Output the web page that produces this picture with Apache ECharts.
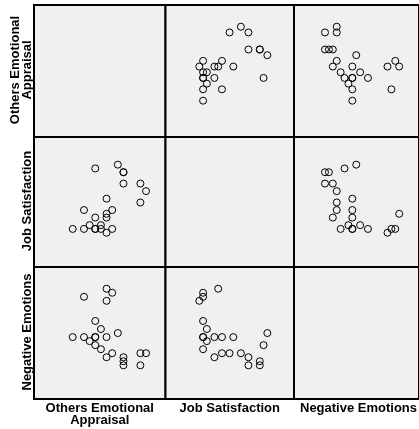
<!DOCTYPE html>
<html>
<head>
<meta charset="utf-8">
<script src="https://cdn.jsdelivr.net/npm/echarts@6/dist/echarts.min.js"></script>
<style>html,body{margin:0;padding:0;background:#fff}#c{width:419px;height:429px}</style>
</head>
<body>
<div id="c"></div>
<script>
// Variable names (row / column labels)
const varNames = ["Others Emotional\nAppraisal", "Job Satisfaction", "Negative Emotions"];
// One value per respondent for each variable (scale scores)
const othersAppraisal = [0, 2, 2, 3, 4, 4, 4, 4, 5, 5, 6, 6, 6, 6, 7, 7, 8, 9, 9, 9, 12, 12, 13];
const jobSatisfaction = [1, 1, 6, 2, 17, 4, 1, 1, 2, 1, 0, 5, 4, 9, 1, 6, 18, 16, 16, 13, 8, 13, 11];
const negativeEmotions = [7, 17, 7, 6, 5, 7, 11, 7, 9, 4, 16, 19, 2, 7, 18, 3, 8, 1, 0, 2, 3, 0, 3];

const vars = [othersAppraisal, jobSatisfaction, negativeEmotions];
// axis extents (as used by the scatterplot matrix panels)
const xRange = [[-6.86, 16.45], [-8.94, 25.05], [-7.94, 24.07]];
const yRange = [[-6.38, 16.82], [-9.07, 25.32], [-8.36, 24.39]];

const colEdges = [34, 165.5, 294, 423];
const rowEdges = [5, 137, 267, 399];

const grids = [], xAxes = [], yAxes = [], series = [];
let k = 0;
for (let r = 0; r < 3; r++) {
  for (let c = 0; c < 3; c++) {
    grids.push({
      left: colEdges[c], top: rowEdges[r],
      width: colEdges[c + 1] - colEdges[c], height: rowEdges[r + 1] - rowEdges[r],
      show: true, backgroundColor: '#f0f0f0', borderColor: '#000', borderWidth: 2
    });
    xAxes.push({ type: 'value', gridIndex: k, min: xRange[c][0], max: xRange[c][1], show: false, splitLine: { show: false } });
    yAxes.push({ type: 'value', gridIndex: k, min: yRange[r][0], max: yRange[r][1], show: false, splitLine: { show: false } });
    if (r !== c) {
      const xs = vars[c], ys = vars[r];
      series.push({
        type: 'scatter', xAxisIndex: k, yAxisIndex: k,
        data: xs.map((v, i) => [v, ys[i]]),
        symbol: 'circle', symbolSize: 7,
        itemStyle: { color: 'rgba(0,0,0,0)', borderColor: '#000', borderWidth: 1, opacity: 1 },
        emphasis: { disabled: true },
        silent: true
      });
    }
    k++;
  }
}

const labelFont = 'bold 13px "Liberation Sans", Arial, sans-serif';
const graphics = [];
for (let r = 0; r < 3; r++) {
  graphics.push({
    type: 'text',
    x: 33, y: (rowEdges[r] + rowEdges[r + 1]) / 2 - 1,
    rotation: Math.PI / 2,
    style: { text: varNames[r], font: labelFont, fill: '#000', align: 'center', verticalAlign: 'bottom', lineHeight: 12 }
  });
}
for (let c = 0; c < 3; c++) {
  graphics.push({
    type: 'text',
    x: (colEdges[c] + colEdges[c + 1]) / 2, y: 402,
    style: { text: varNames[c], font: labelFont, fill: '#000', align: 'center', verticalAlign: 'top', lineHeight: 12 }
  });
}

const chart = echarts.init(document.getElementById('c'), null, { renderer: 'canvas' });
chart.setOption({
  animation: false,
  backgroundColor: '#fff',
  grid: grids,
  xAxis: xAxes,
  yAxis: yAxes,
  series: series,
  graphic: graphics
});
</script>
</body>
</html>
